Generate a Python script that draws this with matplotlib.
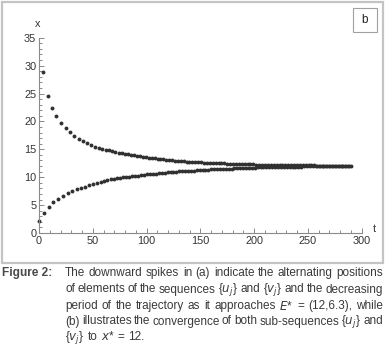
import matplotlib
matplotlib.use("Agg")
import matplotlib.pyplot as plt
from matplotlib.ticker import MultipleLocator
from matplotlib.patches import Rectangle

# ---- data: sub-sequence u_j (upper) ----
u_t = [3.4, 8.0, 11.8, 16.2, 20.6, 24.8, 28.8, 33.0, 37.0, 41.0, 45.0, 48.8, 52.4, 55.8,
       59.0, 62.2, 65.2, 68.2, 71.1, 74.0, 76.9, 79.8, 82.6, 85.4, 88.2, 91.0, 93.8, 96.6,
       99.4, 102.1, 104.8, 107.5, 110.2, 112.9, 115.6, 118.3, 121.0, 123.7, 126.4, 129.1,
       131.8, 134.5, 137.2, 139.9, 142.6, 145.3, 148.0, 150.7, 153.4, 156.1, 158.8, 161.5,
       164.2, 166.9, 169.6, 172.3, 175.0, 177.7, 180.4, 183.1, 185.8, 188.5, 191.2, 193.9,
       196.6, 199.3, 202.0, 204.7, 207.4, 210.1, 212.8, 215.5, 218.2, 220.9, 223.6, 226.3,
       229.0, 231.7, 234.4, 237.1, 239.8, 242.5, 245.2, 247.9, 250.6, 253.3, 256.0, 258.7,
       261.4, 264.1, 266.8, 269.5, 272.2, 274.9, 277.6, 280.3, 283.0, 285.7, 288.4]
u_x = [28.8, 24.6, 22.4, 21.0, 19.8, 18.8, 18.1, 17.4, 16.9, 16.45, 16.1, 15.8, 15.5, 15.3,
       15.1, 14.95, 14.8, 14.65, 14.5, 14.4, 14.3, 14.2, 14.1, 14.0, 13.9, 13.8, 13.72, 13.65,
       13.58, 13.5, 13.45, 13.38, 13.32, 13.26, 13.2, 13.14, 13.08, 13.02, 12.97, 12.93,
       12.89, 12.85, 12.81, 12.77, 12.74, 12.71, 12.68, 12.65, 12.62, 12.6, 12.57, 12.55,
       12.52, 12.5, 12.48, 12.46, 12.44, 12.42, 12.4, 12.38, 12.36, 12.35, 12.33, 12.32,
       12.3, 12.29, 12.27, 12.26, 12.25, 12.24, 12.23, 12.22, 12.21, 12.2, 12.19, 12.18,
       12.17, 12.16, 12.15, 12.15, 12.14, 12.13, 12.12, 12.12, 12.11, 12.1, 12.1, 12.09,
       12.09, 12.08, 12.08, 12.07, 12.07, 12.06, 12.06, 12.05, 12.05, 12.05, 12.04]

# ---- data: sub-sequence v_j (lower) ----
v_t = [0.3, 4.7, 9.3, 13.3, 17.8, 22.4, 26.6, 30.8, 34.9, 38.9, 42.8, 46.6, 50.3, 53.8,
       57.2, 60.5, 63.6, 66.6, 69.6, 72.5, 75.4, 78.3, 81.2, 84.0, 86.8, 89.6, 92.4, 95.2,
       98.0, 100.7, 103.4, 106.1, 108.8, 111.5, 114.2, 116.9, 119.6, 122.3, 125.0, 127.7,
       130.4, 133.1, 135.8, 138.5, 141.2, 143.9, 146.6, 149.3, 152.0, 154.7, 157.4, 160.1,
       162.8, 165.5, 168.2, 170.9, 173.6, 176.3, 179.0, 181.7, 184.4, 187.1, 189.8, 192.5,
       195.2, 197.9, 200.6, 203.3, 206.0, 208.7, 211.4, 214.1, 216.8, 219.5, 222.2, 224.9,
       227.6, 230.3, 233.0, 235.7, 238.4, 241.1, 243.8, 246.5, 249.2, 251.9, 254.6, 257.3,
       260.0, 262.7, 265.4, 268.1, 270.8, 273.5, 276.2, 278.9, 281.6, 284.3, 287.0, 289.7]
v_x = [2.2, 3.65, 4.7, 5.5, 6.1, 6.6, 7.1, 7.5, 7.8, 8.05, 8.3, 8.55, 8.8, 9.0,
       9.2, 9.35, 9.5, 9.6, 9.7, 9.8, 9.88, 9.95, 10.02, 10.1, 10.17, 10.24, 10.3, 10.37,
       10.43, 10.5, 10.55, 10.6, 10.65, 10.7, 10.75, 10.8, 10.85, 10.9, 10.95, 10.99,
       11.03, 11.07, 11.1, 11.14, 11.17, 11.2, 11.23, 11.26, 11.29, 11.32, 11.35, 11.38,
       11.4, 11.43, 11.46, 11.48, 11.5, 11.53, 11.55, 11.57, 11.6, 11.62, 11.64, 11.66,
       11.68, 11.7, 11.72, 11.74, 11.76, 11.77, 11.79, 11.8, 11.82, 11.83, 11.84, 11.85,
       11.86, 11.87, 11.88, 11.89, 11.9, 11.91, 11.91, 11.92, 11.93, 11.93, 11.94, 11.94,
       11.95, 11.95, 11.95, 11.96, 11.96, 11.96, 11.97, 11.97, 11.97, 11.97, 11.98, 11.98]

panel_label = "b"
x_axis_label = "t"
y_axis_label = "x"
caption_head = "Figure 2:"
caption_lines = [
    ["The", "downward", "spikes", "in", "(a)", "indicate", "the", "alternating", "positions"],
    ["of", "elements", "of", "the", "sequences", r"{$u_j$}", "and", r"{$v_j$}", "and", "the", "decreasing"],
    ["period", "of", "the", "trajectory", "as", "it", "approaches", r"$E$*", "=", "(12,6.3),", "while"],
    ["(b)", "illustrates", "the", "convergence", "of", "both", "sub-sequences", r"{$u_j$}", "and"],
    [r"{$v_j$}", "to", r"$x$*", "=", "12."],
]

FONT = ["Liberation Sans Narrow", "Liberation Sans", "DejaVu Sans"]
plt.rcParams["font.family"] = FONT
plt.rcParams["mathtext.fontset"] = "custom"
plt.rcParams["mathtext.rm"] = "Liberation Sans Narrow"
plt.rcParams["mathtext.it"] = "Liberation Sans Narrow:italic"
plt.rcParams["mathtext.bf"] = "Liberation Sans Narrow:bold"

W, H = 386, 358
fig = plt.figure(figsize=(W / 100, H / 100), dpi=100)

def fx(px):
    return px / W

def fy(py):
    return 1 - py / H

# outer panel border
fig.patches.append(Rectangle((fx(1.5), fy(263)), fx(383) - fx(1.5), fy(1.5) - fy(263),
                             transform=fig.transFigure, fill=False,
                             edgecolor="#c4c4c4", linewidth=1.6))
# panel label box
fig.patches.append(Rectangle((fx(353), fy(32)), fx(377) - fx(353), fy(8) - fy(32),
                             transform=fig.transFigure, fill=False,
                             edgecolor="#a0a0a0", linewidth=0.8))
fig.text(fx(365), fy(20), panel_label, ha="center", va="center", fontsize=8.5, color="#222")

ax = fig.add_axes([fx(39), fy(233), fx(361.7) - fx(39), fy(37.7) - fy(233)])
ax.set_xlim(0, 300)
ax.set_ylim(0, 35)
for s in ["top", "right"]:
    ax.spines[s].set_visible(False)
for s in ["left", "bottom"]:
    ax.spines[s].set_color("#8a8a8a")
    ax.spines[s].set_linewidth(0.8)
ax.xaxis.set_major_locator(MultipleLocator(50))
ax.xaxis.set_minor_locator(MultipleLocator(10))
ax.yaxis.set_major_locator(MultipleLocator(5))
ax.yaxis.set_minor_locator(MultipleLocator(1))
ax.tick_params(which="both", direction="in", color="#8a8a8a", width=0.7,
               labelsize=7.8, labelcolor="#333")
ax.tick_params(which="major", length=3.5, pad=2)
ax.tick_params(which="minor", length=2)

ax.plot(u_t, u_x, "o", ms=2.8, color="#303030", mec="none", clip_on=False)
ax.plot(v_t, v_x, "o", ms=2.8, color="#303030", mec="none", clip_on=False)

fig.text(fx(38), fy(24), y_axis_label, ha="center", va="center", fontsize=7.8, color="#333")
fig.text(fx(374), fy(229), x_axis_label, ha="center", va="center", fontsize=7.8, color="#333")

# caption
fig.text(fx(2), fy(273), caption_head, ha="left", va="center", fontsize=8.6,
         fontweight="bold", color="#4a4a4a")

renderer = fig.canvas.get_renderer()
x0, x1 = 65.0, 383.0
line_y = [273, 289.5, 306, 321.5, 337]
for i, words in enumerate(caption_lines):
    texts = [fig.text(0, fy(line_y[i]), w, ha="left", va="center", fontsize=8.5, color="#3a3a3a")
             for w in words]
    widths = [t.get_window_extent(renderer).width for t in texts]
    if i < len(caption_lines) - 1:
        gap = (x1 - x0 - sum(widths)) / (len(words) - 1)
    else:
        gap = 3.2
    x = x0
    for t, w in zip(texts, widths):
        t.set_x(fx(x))
        x += w + gap

fig.savefig("out.png", dpi=100)
